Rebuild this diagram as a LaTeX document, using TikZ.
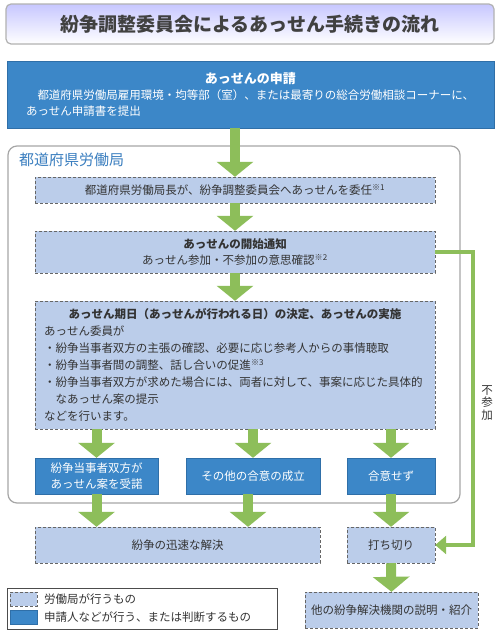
\documentclass[tikz,border=0pt]{standalone}
\usepackage{fontspec}
\setmainfont{Noto Sans CJK JP}
\usetikzlibrary{arrows.meta}
\definecolor{lightfill}{HTML}{BBCDEA}
\definecolor{darkfill}{HTML}{3C87C8}
\definecolor{darkline}{HTML}{2F6FA8}
\definecolor{arrowgreen}{HTML}{8DBE5A}
\definecolor{textgray}{HTML}{333333}
\definecolor{bureaublue}{HTML}{3A7EBF}
\newcommand{\mainW}{400}
\newcommand{\colH}{36}
\newcommand{\bodysize}{\fontsize{11.5}{16}\selectfont}
\newcommand{\notemark}[1]{\textsuperscript{※#1}}
\tikzset{
  lightbox/.style={draw=black!60, dash pattern=on 3pt off 2pt, fill=lightfill, text=textgray, inner sep=0pt, font=\bodysize, align=center},
  darkbox/.style={draw=darkline, fill=darkfill, text=white, inner sep=0pt, font=\bodysize, align=center},
  bigarrow/.style={draw=arrowgreen, line width=10pt, -{Triangle[width=36pt,length=15pt]}},
  sidearrow/.style={draw=arrowgreen, line width=4pt, -{Triangle[width=18pt,length=11pt]}},
}
\begin{document}
\begin{tikzpicture}[x=1pt,y=-1pt]
\useasboundingbox[fill=white] (0,0) rectangle (500,632);

\node[draw=black!30, line width=1.2pt, rounded corners=5pt, top color=blue!22!white, bottom color=white, minimum width=488, minimum height=40, inner sep=0pt, text=black!75, font=\fontsize{19}{22}\selectfont\bfseries] (title) at (250,24) {紛争調整委員会によるあっせん手続きの流れ};

\node[darkbox, minimum width=487, minimum height=67, text width=449, align=left] (apply) at (250.5,94.5) {{\centering\fontsize{13}{20}\selectfont\bfseries あっせんの申請\par}\hspace*{1em}都道府県労働局雇用環境・均等部（室）、または最寄りの総合労働相談コーナーに、\\あっせん申請書を提出};

\draw[draw=black!35, line width=1.2pt, rounded corners=9pt, fill=white] (8,146) rectangle (460,503);
\node[anchor=west, inner sep=0pt, text=bureaublue, font=\fontsize{15}{18}\selectfont] (bureau) at (19,160) {都道府県労働局};

\node[lightbox, minimum width=\mainW, minimum height=26] (delegate) at (235,190) {都道府県労働局長が、紛争調整委員会へあっせんを委任\notemark{1}};
\node[lightbox, minimum width=\mainW, minimum height=42] (notice) at (235,252) {\bfseries あっせんの開始通知\\あっせん参加・不参加の意思確認\notemark{2}};
\node[lightbox, minimum width=\mainW, minimum height=128, text width=382, align=left, font=\fontsize{11.5}{17}\selectfont] (session) at (235,365) {{\centering\bfseries あっせん期日（あっせんが行われる日）の決定、あっせんの実施\par}あっせん委員が\\・紛争当事者双方の主張の確認、必要に応じ参考人からの事情聴取\\・紛争当事者間の調整、話し合いの促進\notemark{3}\\・紛争当事者双方が求めた場合には、両者に対して、事案に応じた具体的\\\hspace*{1em}なあっせん案の提示\\などを行います。};

\node[darkbox, minimum width=123, minimum height=\colH] (accept) at (96.5,476) {紛争当事者双方が\\あっせん案を受諾};
\node[darkbox, minimum width=134, minimum height=\colH] (agree) at (253,476) {その他の合意の成立};
\node[darkbox, minimum width=88, minimum height=\colH] (noagree) at (391,476) {合意せず};

\node[lightbox, minimum width=285, minimum height=\colH] (resolve) at (177.5,545) {紛争の迅速な解決};
\node[lightbox, minimum width=88, minimum height=\colH] (cut) at (391,545) {打ち切り};
\node[lightbox, minimum width=173, minimum height=\colH] (refer) at (391.5,610) {他の紛争解決機関の説明・紹介};

\draw[bigarrow] (delegate.north |- apply.south) -- (delegate.north);
\draw[bigarrow] (delegate.south) -- (notice.north);
\draw[bigarrow] (notice.south) -- (session.north);
\draw[bigarrow] (accept.north |- session.south) -- (accept.north);
\draw[bigarrow] (agree.north |- session.south) -- (agree.north);
\draw[bigarrow] (noagree.north |- session.south) -- (noagree.north);
\draw[bigarrow] (accept.south) -- (accept.south |- resolve.north);
\draw[bigarrow] ([xshift=-5pt]agree.south) -- ([xshift=-5pt]agree.south |- resolve.north);
\draw[bigarrow] (noagree.south) -- (cut.north);
\draw[bigarrow] (cut.south) -- (refer.north);

\draw[sidearrow] (notice.east) -- ++(38,0) |- (cut.east);
\node[inner sep=0pt, align=center, text=textgray, font=\fontsize{11.5}{12.5}\selectfont] (absent) at (487,403) {不\\参\\加};

\draw[draw=black!70, line width=0.8pt] (7,588) rectangle (277,629);
\node[lightbox, minimum width=27, minimum height=14] (keylight) at (23.5,599) {};
\node[darkbox, minimum width=27, minimum height=14] (keydark) at (23.5,617) {};
\node[anchor=west, inner sep=0pt, text=textgray, font=\bodysize] (keylighttext) at (44,599) {労働局が行うもの};
\node[anchor=west, inner sep=0pt, text=textgray, font=\bodysize] (keydarktext) at (44,617) {申請人などが行う、または判断するもの};
\end{tikzpicture}
\end{document}
